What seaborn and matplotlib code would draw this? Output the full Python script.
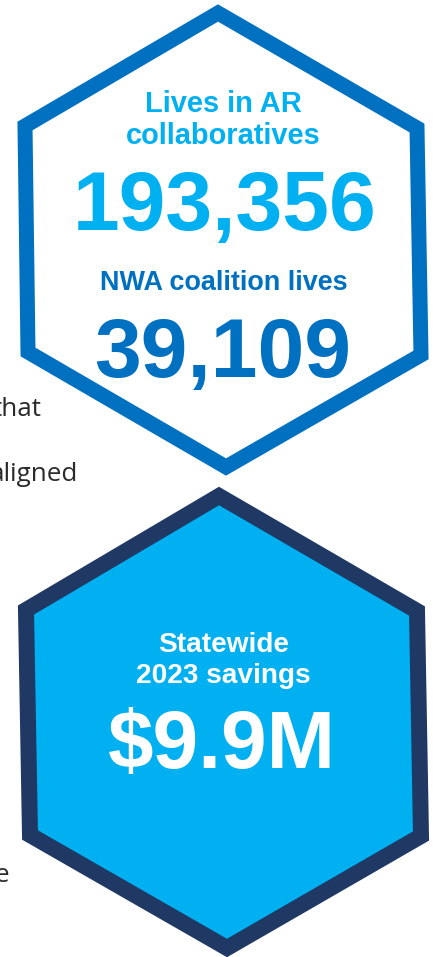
import matplotlib
matplotlib.use("Agg")
import matplotlib.pyplot as plt
import seaborn as sns
from matplotlib.patches import Polygon

# ---- data ----
top_hex_x = [218, 417, 421, 226, 28, 25]
top_hex_y = [13, 128, 355, 467, 352, 126]
bottom_hex_x = [219, 417, 421, 227, 30, 26]
bottom_hex_y = [496, 611, 836, 948, 835, 610]

top_labels = ["Lives in AR", "collaboratives", "193,356", "NWA coalition lives", "39,109"]
bottom_labels = ["Statewide", "2023 savings", "$9.9M"]
side_words = ["that", "aligned", "e"]

# ---- style ----
sns.set_theme(style="white")
plt.rcParams['font.family'] = ['Liberation Sans', 'DejaVu Sans']

W, H, DPI = 433, 957, 100
fig = plt.figure(figsize=(W / DPI, H / DPI), dpi=DPI)
ax = fig.add_axes([0, 0, 1, 1])
ax.set_xlim(0, W)
ax.set_ylim(H, 0)
ax.axis("off")

px = 72 / DPI  # px -> pt

BLUE = "#0070C0"
LIGHT = "#00B0F0"
NAVY = "#203864"

ax.add_patch(Polygon(list(zip(top_hex_x, top_hex_y)), closed=True,
                     facecolor="white", edgecolor=BLUE, linewidth=15 * px,
                     joinstyle="miter"))
ax.add_patch(Polygon(list(zip(bottom_hex_x, bottom_hex_y)), closed=True,
                     facecolor=LIGHT, edgecolor=NAVY, linewidth=16 * px,
                     joinstyle="miter"))

# top hexagon texts
top_specs = [  # (x, baseline y, size px, color)
    (223, 112, 29, LIGHT),
    (223.5, 144, 29, LIGHT),
    (225, 230, 84, LIGHT),
    (224, 290, 27, BLUE),
    (223, 377, 84, BLUE),
]
for lab, (x, y, s, c) in zip(top_labels, top_specs):
    ax.text(x, y, lab, ha="center", va="baseline", fontsize=s * px,
            fontweight="bold", color=c)

bottom_specs = [
    (224, 652, 28),
    (223, 683, 28),
    (222, 768, 82),
]
for lab, (x, y, s) in zip(bottom_labels, bottom_specs):
    ax.text(x, y, lab, ha="center", va="baseline", fontsize=s * px,
            fontweight="bold", color="white")

side_specs = [(42, 416), (78, 481), (9, 882)]
for lab, (x, y) in zip(side_words, side_specs):
    ax.text(x, y, lab, ha="right", va="baseline", fontsize=26 * px,
            color="#2a2a2a", family=["Open Sans", "DejaVu Sans"])

fig.savefig("out.png", dpi=DPI)
